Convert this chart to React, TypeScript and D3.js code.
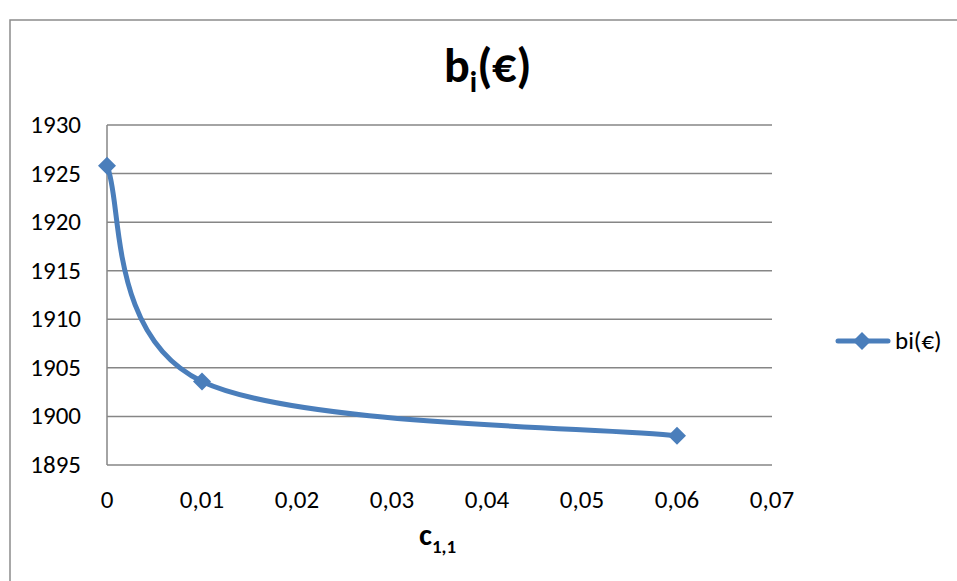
import React from "react";
import * as d3 from "d3";

const xValues = [0, 0.01, 0.06];
const yValues = [1925.8, 1903.6, 1898.0];
const xTicks = [0, 0.01, 0.02, 0.03, 0.04, 0.05, 0.06, 0.07];
const yTicks = [1895, 1900, 1905, 1910, 1915, 1920, 1925, 1930];
const seriesName = "bi(€)";

const W = 957, H = 581;
const plot = { left: 107, right: 772, top: 125, bottom: 465 };
const FONT = "Carlito, Lato, 'Open Sans', sans-serif";
const COLOR = "#4a7ebb";

function excelSmooth(pts: [number, number][]) {
  const p = d3.path();
  const n = pts.length;
  p.moveTo(pts[0][0], pts[0][1]);
  const get = (i: number) => pts[Math.max(0, Math.min(n - 1, i))];
  for (let i = 0; i < n - 1; i++) {
    const p0 = get(i - 1), p1 = get(i), p2 = get(i + 1), p3 = get(i + 2);
    const c1x = p1[0] + (p2[0] - p0[0]) / 6;
    const c1y = p1[1] + (p2[1] - p0[1]) / 6;
    const c2x = p2[0] - (p3[0] - p1[0]) / 6;
    const c2y = p2[1] - (p3[1] - p1[1]) / 6;
    p.bezierCurveTo(c1x, c1y, c2x, c2y, p2[0], p2[1]);
  }
  return p.toString();
}

export default function App() {
  const x = d3.scaleLinear().domain([0, 0.07]).range([plot.left, plot.right]);
  const y = d3.scaleLinear().domain([1895, 1930]).range([plot.bottom, plot.top]);
  const pts: [number, number][] = xValues.map((v, i) => [x(v), y(yValues[i])]);
  const fmt = (v: number) => (v === 0 ? "0" : d3.format(".2f")(v).replace(".", ","));
  const diamond = (cx: number, cy: number, r: number) =>
    `M${cx},${cy - r}L${cx + r},${cy}L${cx},${cy + r}L${cx - r},${cy}Z`;

  return (
    <svg width={W} height={H} style={{ position: "absolute", left: 0, top: 0 }}>
      <rect x={0} y={0} width={W} height={H} fill="#fff" />
      <rect x={10} y={20} width={W + 10} height={H + 10} fill="none" stroke="#8c8c8c" strokeWidth={1.5} />
      <text x={444} y={82} fontFamily={FONT} fontWeight="bold" fontSize={48} fill="#000">
        b<tspan fontSize={30} dy={10}>i</tspan><tspan dy={-10}>(€)</tspan>
      </text>
      {yTicks.map((t) => (
        <line key={"g" + t} x1={plot.left} x2={plot.right} y1={y(t)} y2={y(t)} stroke="#868686" strokeWidth={1.5} />
      ))}
      <line x1={plot.left} x2={plot.left} y1={plot.top} y2={plot.bottom} stroke="#868686" strokeWidth={1.5} />
      {yTicks.map((t) => (
        <text key={"yl" + t} x={81} y={y(t) + 8} textAnchor="end" fontFamily={FONT} fontSize={25} fill="#000">
          {t}
        </text>
      ))}
      {xTicks.map((t) => (
        <text key={"xl" + t} x={x(t)} y={508} textAnchor="middle" fontFamily={FONT} fontSize={25} fill="#000">
          {fmt(t)}
        </text>
      ))}
      <text x={419} y={545} fontFamily={FONT} fontWeight="bold" fontSize={31} fill="#000">
        c<tspan fontSize={19} dy={8}>1,1</tspan>
      </text>
      <path d={excelSmooth(pts)} fill="none" stroke={COLOR} strokeWidth={5} strokeLinecap="round" />
      {pts.map((p, i) => (
        <path key={"m" + i} d={diamond(p[0], p[1], 9)} fill={COLOR} />
      ))}
      <line x1={838} x2={888} y1={341} y2={341} stroke={COLOR} strokeWidth={5} strokeLinecap="round" />
      <path d={diamond(862, 341, 9)} fill={COLOR} />
      <text x={895} y={349} fontFamily={FONT} fontSize={25} fill="#000">{seriesName}</text>
    </svg>
  );
}
